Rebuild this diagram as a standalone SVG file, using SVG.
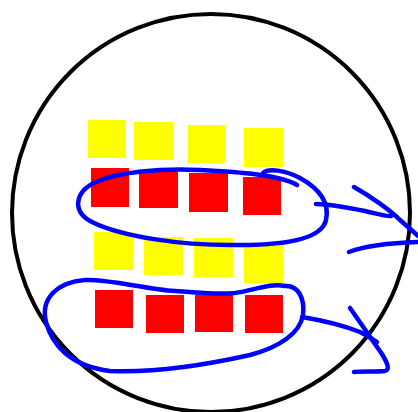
<svg xmlns="http://www.w3.org/2000/svg" width="418" height="412" viewBox="0 0 418 412">
<style>
.y{fill:#ffff00}
.r{fill:#ff0000}
.b{fill:none;stroke:#0000ff;stroke-width:4.5;stroke-linecap:round;stroke-linejoin:round}
</style>
<rect width="418" height="412" fill="#fff"/>
<circle cx="211" cy="213" r="199" fill="none" stroke="#000" stroke-width="4"/>
<g id="yellow1">
<rect class="y" x="88" y="120" width="38" height="38"/>
<rect class="y" x="134" y="122" width="39" height="38"/>
<rect class="y" x="188" y="125" width="38" height="38"/>
<rect class="y" x="244" y="128" width="39" height="39"/>
</g>
<g id="red1">
<rect class="r" x="91" y="168" width="38" height="39"/>
<rect class="r" x="139" y="170" width="39" height="38"/>
<rect class="r" x="189" y="173" width="39" height="39"/>
<rect class="r" x="243" y="177" width="38" height="38"/>
</g>
<g id="yellow2">
<rect class="y" x="94" y="232" width="39" height="38"/>
<rect class="y" x="144" y="237" width="39" height="38"/>
<rect class="y" x="194" y="238" width="39" height="39"/>
<rect class="y" x="244" y="245" width="39" height="38"/>
</g>
<g id="red2">
<rect class="r" x="95" y="290" width="38" height="38"/>
<rect class="r" x="146" y="295" width="38" height="38"/>
<rect class="r" x="195" y="295" width="38" height="37"/>
<rect class="r" x="245" y="295" width="38" height="38"/>
</g>
<g id="connectors">
<path class="b" d="M263,173 C268,168 285,170 300,178 C318,188 330,202 326,220 C322,238 290,245 240,245 C180,246 120,236 92,222 C72,212 74,192 96,182 C118,172 160,168 200,170 C240,172 280,175 297,185"/>
<path class="b" d="M316,204 C330,204 350,208 365,211 C378,214 388,217 391,216"/>
<path class="b" d="M354,187 C370,196 390,210 400,220 C408,227 414,232 418,236"/>
<path class="b" d="M349,252 C365,246 385,243 418,242"/>
<path class="b" d="M285,286 C270,283 255,290 235,293 C215,295 195,292 175,291 C145,289 110,279 85,280 C58,282 40,298 46,322 C52,345 70,366 110,371 C160,373 210,364 250,355 C280,347 300,333 303,315 C305,298 298,285 285,286"/>
<path class="b" d="M302,317 C320,320 345,326 360,332 C368,336 374,340 377,342"/>
<path class="b" d="M350,308 C360,322 372,340 382,354 C388,364 390,370 385,371 C375,372 362,371 354,372"/>
</g>
</svg>
